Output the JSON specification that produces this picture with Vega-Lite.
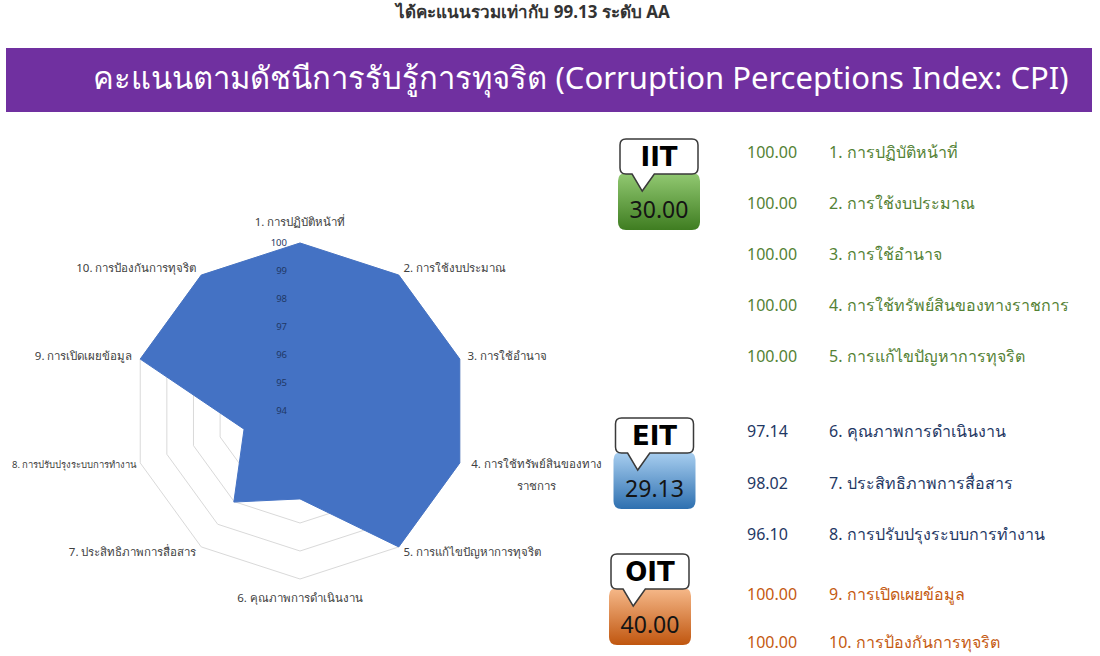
{
  "$schema": "https://vega.github.io/schema/vega-lite/v6.json",
  "width": 1100,
  "height": 656,
  "autosize": "none",
  "padding": 0,
  "background": "#ffffff",
  "config": {
    "view": {"stroke": null},
    "axis": {"disable": true},
    "legend": {"disable": true},
    "text": {"font": "Noto Sans"}
  },
  "datasets": {
    "items": [
      {"idx": 1, "item": "1. การปฏิบัติหน้าที่", "score": 100.00, "group": "IIT"},
      {"idx": 2, "item": "2. การใช้งบประมาณ", "score": 100.00, "group": "IIT"},
      {"idx": 3, "item": "3. การใช้อำนาจ", "score": 100.00, "group": "IIT"},
      {"idx": 4, "item": "4. การใช้ทรัพย์สินของทางราชการ", "score": 100.00, "group": "IIT"},
      {"idx": 5, "item": "5. การแก้ไขปัญหาการทุจริต", "score": 100.00, "group": "IIT"},
      {"idx": 6, "item": "6. คุณภาพการดำเนินงาน", "score": 97.14, "group": "EIT"},
      {"idx": 7, "item": "7. ประสิทธิภาพการสื่อสาร", "score": 98.02, "group": "EIT"},
      {"idx": 8, "item": "8. การปรับปรุงระบบการทำงาน", "score": 96.10, "group": "EIT"},
      {"idx": 9, "item": "9. การเปิดเผยข้อมูล", "score": 100.00, "group": "OIT"},
      {"idx": 10, "item": "10. การป้องกันการทุจริต", "score": 100.00, "group": "OIT"}
    ],
    "groups": [
      {"group": "IIT", "total": 30.00},
      {"group": "EIT", "total": 29.13},
      {"group": "OIT", "total": 40.00}
    ],
    "ticks": [{"tick": 94}, {"tick": 95}, {"tick": 96}, {"tick": 97}, {"tick": 98}, {"tick": 99}, {"tick": 100}],
    "banner": [{"title": "คะแนนตามดัชนีการรับรู้การทุจริต (Corruption Perceptions Index: CPI)"}],
    "headline": [{"text": "ได้คะแนนรวมเท่ากับ 99.13 ระดับ AA"}]
  },
  "resolve": {"scale": {"x": "independent", "y": "independent", "color": "independent"}},
  "layer": [
    {
      "data": {"name": "headline"},
      "mark": {"type": "text", "fontSize": 17, "fontWeight": "bold", "color": "#333333", "baseline": "alphabetic", "dx": -17},
      "encoding": {
        "text": {"field": "text"},
        "y": {"field": "text", "type": "nominal", "scale": {"type": "band", "range": [0, 36], "paddingInner": 0, "paddingOuter": 0}}
      }
    },
    {
      "data": {"name": "banner"},
      "mark": {"type": "rect", "color": "#7030A0"},
      "encoding": {
        "x": {"field": "title", "type": "nominal", "scale": {"type": "band", "range": [6, 1092], "paddingInner": 0, "paddingOuter": 0}},
        "y": {"field": "title", "type": "nominal", "scale": {"type": "band", "range": [48, 112], "paddingInner": 0, "paddingOuter": 0}}
      }
    },
    {
      "data": {"name": "banner"},
      "mark": {"type": "text", "color": "#ffffff", "fontSize": 31, "baseline": "middle", "align": "center", "dx": 32},
      "encoding": {
        "text": {"field": "title"},
        "x": {"field": "title", "type": "nominal", "scale": {"type": "band", "range": [6, 1092], "paddingInner": 0, "paddingOuter": 0}},
        "y": {"field": "title", "type": "nominal", "scale": {"type": "band", "range": [48, 112], "paddingInner": 0, "paddingOuter": 0}}
      }
    },
    {
      "data": {"name": "items"},
      "transform": [
        {"calculate": "[1, 2, 3, 4, 5, 6]", "as": "lv"},
        {"flatten": ["lv"]},
        {"calculate": "(datum.idx - 1) * PI / 5", "as": "a"},
        {"calculate": "datum.lv * sin(datum.a)", "as": "px"},
        {"calculate": "datum.lv * cos(datum.a)", "as": "py"}
      ],
      "mark": {"type": "line", "interpolate": "linear-closed", "stroke": "#D9D9D9", "strokeWidth": 1},
      "encoding": {
        "x": {"field": "px", "type": "quantitative", "scale": {"domain": [-6, 6], "range": [132, 468], "zero": false, "nice": false}},
        "y": {"field": "py", "type": "quantitative", "scale": {"domain": [-6, 6], "range": [579, 243], "zero": false, "nice": false}},
        "detail": {"field": "lv", "type": "nominal"},
        "order": {"field": "idx", "type": "quantitative"}
      }
    },
    {
      "data": {"name": "items"},
      "transform": [
        {"calculate": "(datum.idx - 1) * PI / 5", "as": "a"},
        {"calculate": "(datum.score - 94) * sin(datum.a)", "as": "px"},
        {"calculate": "(datum.score - 94) * cos(datum.a)", "as": "py"}
      ],
      "mark": {"type": "line", "interpolate": "linear-closed", "fill": "#4472C4", "stroke": "#4472C4", "strokeWidth": 1},
      "encoding": {
        "x": {"field": "px", "type": "quantitative", "scale": {"domain": [-6, 6], "range": [132, 468], "zero": false, "nice": false}},
        "y": {"field": "py", "type": "quantitative", "scale": {"domain": [-6, 6], "range": [579, 243], "zero": false, "nice": false}},
        "order": {"field": "idx", "type": "quantitative"}
      }
    },
    {
      "data": {"name": "ticks"},
      "transform": [
        {"calculate": "0", "as": "px"},
        {"calculate": "datum.tick - 94", "as": "py"}
      ],
      "mark": {"type": "text", "align": "right", "baseline": "middle", "dx": -13, "fontSize": 9.5, "color": "#1F3864"},
      "encoding": {
        "text": {"field": "tick", "type": "quantitative"},
        "x": {"field": "px", "type": "quantitative", "scale": {"domain": [-6, 6], "range": [132, 468], "zero": false, "nice": false}},
        "y": {"field": "py", "type": "quantitative", "scale": {"domain": [-6, 6], "range": [579, 243], "zero": false, "nice": false}}
      }
    },
    {
      "data": {"name": "items"},
      "transform": [
        {"filter": "datum.idx == 2 || datum.idx == 3 || datum.idx == 5"},
        {"calculate": "(datum.idx - 1) * PI / 5", "as": "a"},
        {"calculate": "6.29 * sin(datum.a)", "as": "px"},
        {"calculate": "6.29 * cos(datum.a)", "as": "py"}
      ],
      "mark": {"type": "text", "align": "left", "baseline": "middle", "fontSize": 11.5, "color": "#404040"},
      "encoding": {
        "text": {"field": "item"},
        "x": {"field": "px", "type": "quantitative", "scale": {"domain": [-6, 6], "range": [132, 468], "zero": false, "nice": false}},
        "y": {"field": "py", "type": "quantitative", "scale": {"domain": [-6, 6], "range": [579, 243], "zero": false, "nice": false}}
      }
    },
    {
      "data": {"name": "items"},
      "transform": [
        {"filter": "datum.idx == 7 || datum.idx == 9 || datum.idx == 10"},
        {"calculate": "(datum.idx - 1) * PI / 5", "as": "a"},
        {"calculate": "6.29 * sin(datum.a)", "as": "px"},
        {"calculate": "6.29 * cos(datum.a)", "as": "py"}
      ],
      "mark": {"type": "text", "align": "right", "baseline": "middle", "fontSize": 11.5, "color": "#404040"},
      "encoding": {
        "text": {"field": "item"},
        "x": {"field": "px", "type": "quantitative", "scale": {"domain": [-6, 6], "range": [132, 468], "zero": false, "nice": false}},
        "y": {"field": "py", "type": "quantitative", "scale": {"domain": [-6, 6], "range": [579, 243], "zero": false, "nice": false}}
      }
    },
    {
      "data": {"name": "items"},
      "transform": [
        {"filter": "datum.idx == 8"},
        {"calculate": "(datum.idx - 1) * PI / 5", "as": "a"},
        {"calculate": "6.29 * sin(datum.a)", "as": "px"},
        {"calculate": "6.29 * cos(datum.a)", "as": "py"}
      ],
      "mark": {"type": "text", "align": "right", "baseline": "middle", "fontSize": 9.5, "color": "#404040", "dx": 4},
      "encoding": {
        "text": {"field": "item"},
        "x": {"field": "px", "type": "quantitative", "scale": {"domain": [-6, 6], "range": [132, 468], "zero": false, "nice": false}},
        "y": {"field": "py", "type": "quantitative", "scale": {"domain": [-6, 6], "range": [579, 243], "zero": false, "nice": false}}
      }
    },
    {
      "data": {"name": "items"},
      "transform": [
        {"filter": "datum.idx == 1 || datum.idx == 6"},
        {"calculate": "(datum.idx - 1) * PI / 5", "as": "a"},
        {"calculate": "6.7 * sin(datum.a)", "as": "px"},
        {"calculate": "6.7 * cos(datum.a)", "as": "py"}
      ],
      "mark": {"type": "text", "align": "center", "baseline": "middle", "fontSize": 11.5, "color": "#404040"},
      "encoding": {
        "text": {"field": "item"},
        "x": {"field": "px", "type": "quantitative", "scale": {"domain": [-6, 6], "range": [132, 468], "zero": false, "nice": false}},
        "y": {"field": "py", "type": "quantitative", "scale": {"domain": [-6, 6], "range": [579, 243], "zero": false, "nice": false}}
      }
    },
    {
      "data": {"name": "items"},
      "transform": [
        {"filter": "datum.idx == 4"},
        {"calculate": "slice(datum.item, 0, -6) + '\\n' + slice(datum.item, -6)", "as": "lines"},
        {"calculate": "(datum.idx - 1) * PI / 5", "as": "a"},
        {"calculate": "6.29 * sin(datum.a)", "as": "px"},
        {"calculate": "6.29 * cos(datum.a)", "as": "py"}
      ],
      "mark": {"type": "text", "align": "center", "baseline": "middle", "fontSize": 11.5, "color": "#404040", "lineBreak": "\n", "lineHeight": 22, "dx": 69},
      "encoding": {
        "text": {"field": "lines"},
        "x": {"field": "px", "type": "quantitative", "scale": {"domain": [-6, 6], "range": [132, 468], "zero": false, "nice": false}},
        "y": {"field": "py", "type": "quantitative", "scale": {"domain": [-6, 6], "range": [579, 243], "zero": false, "nice": false}}
      }
    },
    {
      "data": {"name": "items"},
      "transform": [
        {"aggregate": [{"op": "min", "field": "idx", "as": "first"}], "groupby": ["group"]},
        {"filter": "datum.group === 'IIT'"}
      ],
      "mark": {"type": "point", "filled": true, "opacity": 1, "size": 6724, "strokeWidth": 0,
        "shape": "M-0.805,-0.695L0.805,-0.695Q1,-0.695 1,-0.5L1,0.5Q1,0.695 0.805,0.695L-0.805,0.695Q-1,0.695 -1,0.5L-1,-0.5Q-1,-0.695 -0.805,-0.695Z",
        "fill": {"gradient": "linear", "x1": 0, "y1": 0, "x2": 0, "y2": 1, "stops": [{"offset": 0, "color": "#92C972"}, {"offset": 1, "color": "#3F7D21"}]}},
      "encoding": {
        "x": {"field": "group", "type": "nominal", "scale": {"type": "point", "domain": ["IIT", "EIT", "OIT"], "range": [659, 650], "padding": 0}},
        "y": {"field": "first", "type": "quantitative", "scale": {"domain": [1, 6, 9], "range": [201.5, 480.5, 616.5], "zero": false, "nice": false}}
      }
    },
    {
      "data": {"name": "items"},
      "transform": [
        {"aggregate": [{"op": "min", "field": "idx", "as": "first"}], "groupby": ["group"]},
        {"filter": "datum.group === 'EIT'"}
      ],
      "mark": {"type": "point", "filled": true, "opacity": 1, "size": 6724, "strokeWidth": 0,
        "shape": "M-0.805,-0.695L0.805,-0.695Q1,-0.695 1,-0.5L1,0.5Q1,0.695 0.805,0.695L-0.805,0.695Q-1,0.695 -1,0.5L-1,-0.5Q-1,-0.695 -0.805,-0.695Z",
        "fill": {"gradient": "linear", "x1": 0, "y1": 0, "x2": 0, "y2": 1, "stops": [{"offset": 0, "color": "#A9CFF0"}, {"offset": 1, "color": "#2E70B0"}]}},
      "encoding": {
        "x": {"field": "group", "type": "nominal", "scale": {"type": "point", "domain": ["IIT", "EIT", "OIT"], "range": [659, 650], "padding": 0}},
        "y": {"field": "first", "type": "quantitative", "scale": {"domain": [1, 6, 9], "range": [201.5, 480.5, 616.5], "zero": false, "nice": false}}
      }
    },
    {
      "data": {"name": "items"},
      "transform": [
        {"aggregate": [{"op": "min", "field": "idx", "as": "first"}], "groupby": ["group"]},
        {"filter": "datum.group === 'OIT'"}
      ],
      "mark": {"type": "point", "filled": true, "opacity": 1, "size": 6724, "strokeWidth": 0,
        "shape": "M-0.805,-0.695L0.805,-0.695Q1,-0.695 1,-0.5L1,0.5Q1,0.695 0.805,0.695L-0.805,0.695Q-1,0.695 -1,0.5L-1,-0.5Q-1,-0.695 -0.805,-0.695Z",
        "fill": {"gradient": "linear", "x1": 0, "y1": 0, "x2": 0, "y2": 1, "stops": [{"offset": 0, "color": "#F6B98A"}, {"offset": 1, "color": "#C0560F"}]}},
      "encoding": {
        "x": {"field": "group", "type": "nominal", "scale": {"type": "point", "domain": ["IIT", "EIT", "OIT"], "range": [659, 650], "padding": 0}},
        "y": {"field": "first", "type": "quantitative", "scale": {"domain": [1, 6, 9], "range": [201.5, 480.5, 616.5], "zero": false, "nice": false}}
      }
    },
    {
      "data": {"name": "items"},
      "transform": [
        {"aggregate": [{"op": "min", "field": "idx", "as": "first"}], "groupby": ["group"]}
      ],
      "mark": {"type": "point", "filled": true, "opacity": 1, "size": 6084, "fill": "#ffffff", "stroke": "#3A3A3A", "strokeWidth": 1.5,
        "shape": "M-0.846,-0.449L0.846,-0.449Q1,-0.449 1,-0.295L1,0.295Q1,0.449 0.846,0.449L-0.12,0.449L-0.43,0.885L-0.69,0.449L-0.846,0.449Q-1,0.449 -1,0.295L-1,-0.295Q-1,-0.449 -0.846,-0.449Z"},
      "encoding": {
        "x": {"field": "group", "type": "nominal", "scale": {"type": "point", "domain": ["IIT", "EIT", "OIT"], "range": [659, 650], "padding": 0}},
        "y": {"field": "first", "type": "quantitative", "scale": {"domain": [1, 6, 9], "range": [156.5, 435.5, 571.5], "zero": false, "nice": false}}
      }
    },
    {
      "data": {"name": "items"},
      "transform": [
        {"aggregate": [{"op": "min", "field": "idx", "as": "first"}], "groupby": ["group"]}
      ],
      "mark": {"type": "text", "align": "center", "baseline": "middle", "fontSize": 26, "fontWeight": "bold", "font": "DejaVu Sans", "color": "#000000", "dy": 1},
      "encoding": {
        "text": {"field": "group"},
        "x": {"field": "group", "type": "nominal", "scale": {"type": "point", "domain": ["IIT", "EIT", "OIT"], "range": [659, 650], "padding": 0}},
        "y": {"field": "first", "type": "quantitative", "scale": {"domain": [1, 6, 9], "range": [156.5, 435.5, 571.5], "zero": false, "nice": false}}
      }
    },
    {
      "data": {"name": "items"},
      "transform": [
        {"aggregate": [{"op": "min", "field": "idx", "as": "first"}], "groupby": ["group"]},
        {"lookup": "group", "from": {"data": {"name": "groups"}, "key": "group", "fields": ["total"]}}
      ],
      "mark": {"type": "text", "align": "center", "baseline": "middle", "fontSize": 23, "color": "#141414", "dy": 9},
      "encoding": {
        "text": {"field": "total", "type": "quantitative", "format": ".2f"},
        "x": {"field": "group", "type": "nominal", "scale": {"type": "point", "domain": ["IIT", "EIT", "OIT"], "range": [659, 650], "padding": 0}},
        "y": {"field": "first", "type": "quantitative", "scale": {"domain": [1, 6, 9], "range": [201.5, 480.5, 616.5], "zero": false, "nice": false}}
      }
    },
    {
      "data": {"name": "items"},
      "transform": [
        {"calculate": "format(datum.score, '.2f')", "as": "scoreText"},
        {"fold": ["scoreText", "item"], "as": ["col", "label"]}
      ],
      "mark": {"type": "text", "align": "left", "baseline": "middle", "fontSize": 16},
      "encoding": {
        "text": {"field": "label"},
        "x": {"field": "col", "type": "nominal", "scale": {"type": "point", "domain": ["scoreText", "item"], "range": [747, 829], "padding": 0}},
        "y": {"field": "idx", "type": "quantitative", "scale": {"domain": [1, 5, 6, 8, 9, 10], "range": [153, 357, 432, 535, 595, 643], "zero": false, "nice": false}},
        "color": {"field": "group", "type": "nominal", "legend": null, "scale": {"domain": ["IIT", "EIT", "OIT"], "range": ["#548235", "#1F3864", "#C55A11"]}}
      }
    }
  ]
}
